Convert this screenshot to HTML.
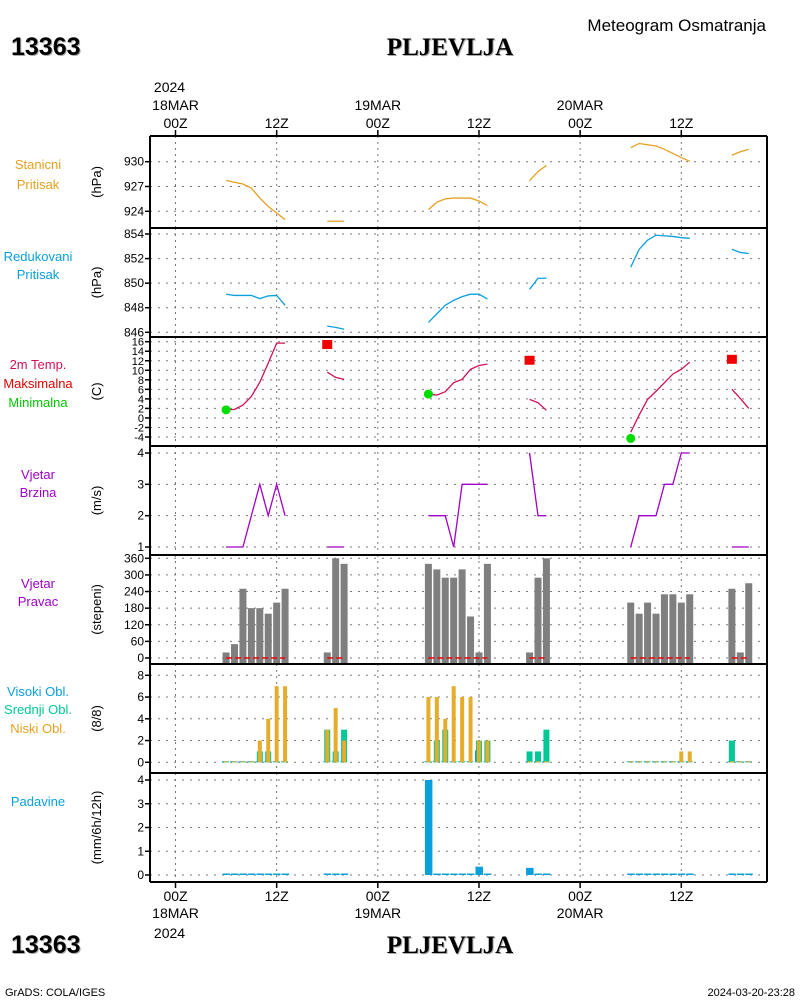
<!DOCTYPE html>
<html><head><meta charset="utf-8"><style>
body{margin:0;background:#fff;}
svg text{font-family:"Liberation Sans",sans-serif;}
</style></head><body>
<svg id="chart" width="800" height="1000" xmlns="http://www.w3.org/2000/svg">
<rect width="800" height="1000" fill="#fff"/>
<g id="titles">
<text x="12" y="56" font-size="25" font-weight="bold" fill="#aaa">13363</text>
<text x="11" y="55" font-size="25" font-weight="bold" fill="#000">13363</text>
<text x="451" y="56" font-size="25" font-weight="bold" fill="#aaa" text-anchor="middle" style="font-family:'Liberation Serif',serif">PLJEVLJA</text>
<text x="450" y="55" font-size="25" font-weight="bold" fill="#000" text-anchor="middle" style="font-family:'Liberation Serif',serif">PLJEVLJA</text>
<text x="766" y="31" font-size="17" text-anchor="end">Meteogram Osmatranja</text>
<text x="12" y="954" font-size="25" font-weight="bold" fill="#aaa">13363</text>
<text x="11" y="953" font-size="25" font-weight="bold">13363</text>
<text x="451" y="954" font-size="25" font-weight="bold" fill="#aaa" text-anchor="middle" style="font-family:'Liberation Serif',serif">PLJEVLJA</text>
<text x="450" y="953" font-size="25" font-weight="bold" text-anchor="middle" style="font-family:'Liberation Serif',serif">PLJEVLJA</text>
<text x="5" y="996" font-size="11">GrADS: COLA/IGES</text>
<text x="795" y="996" font-size="11" text-anchor="end">2024-03-20-23:28</text>
</g>
<g id="labels" font-size="13" text-anchor="middle">
<text x="38" y="169" fill="#e8a020">Stanicni</text>
<text x="38" y="189" fill="#e8a020">Pritisak</text>
<text x="38" y="261" fill="#0aa0dc">Redukovani</text>
<text x="38" y="279" fill="#0aa0dc">Pritisak</text>
<text x="38" y="369" fill="#d0105a">2m Temp.</text>
<text x="38" y="388" fill="#e00000">Maksimalna</text>
<text x="38" y="407" fill="#00c800">Minimalna</text>
<text x="38" y="479" fill="#a000c8">Vjetar</text>
<text x="38" y="497" fill="#a000c8">Brzina</text>
<text x="38" y="588" fill="#a000c8">Vjetar</text>
<text x="38" y="606" fill="#a000c8">Pravac</text>
<text x="38" y="696" fill="#0aa0dc">Visoki Obl.</text>
<text x="38" y="714" fill="#00c896">Srednji Obl.</text>
<text x="38" y="733" fill="#e8a020">Niski Obl.</text>
<text x="38" y="806" fill="#0aa0dc">Padavine</text>
</g>
<g id="plot"></g>
</svg>
<script>
const hours=[6,7,8,9,10,11,12,13,18,19,20,30,31,32,33,34,35,36,37,42,43,44,54,55,56,57,58,59,60,61,66,67,68];
const stnP=[927.75,927.5,927.3,926.8,925.6,924.6,923.8,923.0,922.8,922.8,922.8,924.2,925.1,925.5,925.6,925.6,925.6,925.25,924.7,927.7,928.8,929.55,931.7,932.2,932.05,931.9,931.5,931.0,930.5,930.05,930.8,931.2,931.5];
const redP=[849.1,849.0,849.0,849.0,848.74,848.96,849.0,848.2,846.5,846.4,846.25,846.8,847.5,848.2,848.6,848.9,849.1,849.1,848.7,849.5,850.4,850.4,851.3,852.75,853.5,853.9,853.85,853.8,853.7,853.65,852.75,852.5,852.4];
const temp=[1.7,1.8,2.7,4.5,7.5,11.5,15.7,15.7,9.6,8.5,8.1,5.0,4.8,5.5,7.4,8.1,10.2,11.0,11.3,3.9,3.2,1.6,-3.0,0.6,3.9,5.6,7.4,9.2,10.2,11.7,6.0,4.1,2.0];
const tmaxHours=[18,42,66];
const tmaxVals=[15.3,12.0,12.2];
const tminHours=[6,30,54];
const tminVals=[1.7,5.0,-4.3];
const windSpd=[1,1,1,2,3,2,3,2,1,1,1,2,2,2,1,3,3,3,3,4,2,2,1,2,2,2,3,3,4,4,1,1,1];
const windDir=[20,50,250,180,180,160,200,250,20,360,340,340,320,290,290,320,150,20,340,20,290,360,200,160,200,160,230,230,200,230,250,20,270];
const cloudL=[0,0,0,0,2,4,7,7,3,5,2,6,6,4,7,6,6,2,2,0,0,0,0,0,0,0,0,0,1,1,0,0,0];
const cloudM=[0,0,0,0,1,1,0,0,3,1,3,0,2,3,0,0,0,2,2,1,1,3,0,0,0,0,0,0,0,0,2,0,0];
const cloudH=[0,0,0,0,0,0,0,0,0,0,0,0,0,0,0,0,0,1.1,0,0,0,0,0,0,0,0,0,0,0,0,0,0,0];
const precip=[0,0,0,0,0,0,0,0,0,0,0,4.0,0,0,0,0,0,0.35,0,0.3,0,0,0,0,0,0,0,0,0,0,0,0,0];
const stnTicks=[924,927,930];
const redTicks=[846,848,850,852,854];
const tempTicks=[-4,-2,0,2,4,6,8,10,12,14,16];
const spdTicks=[1,2,3,4];
const dirTicks=[0,60,120,180,240,300,360];
const cloudTicks=[0,2,4,6,8];
const precipTicks=[0,1,2,3,4];

const NS="http://www.w3.org/2000/svg";
const plot=document.getElementById('plot');
function el(tag,attrs,parent){const e=document.createElementNS(NS,tag);for(const k in attrs)e.setAttribute(k,attrs[k]);(parent||plot).appendChild(e);return e;}
const X0=150,X1=767;
function xs(h){return 175.5+h*8.43;}
function lin(v0,y0,v1,y1){return v=>y0+(v-v0)*(y1-y0)/(v1-v0);}
const panels=[
 {top:136,bot:228,ys:lin(924,211.3,930,161.7),ticks:stnTicks,unit:"(hPa)"},
 {top:228,bot:337,ys:lin(846,332.3,854,234),ticks:redTicks,unit:"(hPa)"},
 {top:337,bot:446,ys:lin(-4,437,16,341.7),ticks:tempTicks,unit:"(C)"},
 {top:446,bot:555,ys:lin(1,547,4,453),ticks:spdTicks,unit:"(m/s)"},
 {top:555,bot:664,ys:lin(0,658,360,558.3),ticks:dirTicks,unit:"(stepeni)"},
 {top:664,bot:773,ys:lin(0,762.3,8,675.3),ticks:cloudTicks,unit:"(8/8)"},
 {top:773,bot:882,ys:lin(0,875,4,780),ticks:precipTicks,unit:"(mm/6h/12h)"}
];
const gridHours=[0,12,24,36,48,60];
panels.forEach((p,i)=>{
 const g=el('g',{});
 
 
 gridHours.forEach(h=>{const l=el('line',{x1:xs(h),x2:xs(h),y1:p.top,y2:p.bot,stroke:'#777','stroke-dasharray':'2,4'},g);
  });
 p.ticks.forEach(t=>{const y=p.ys(t);
  const l=el('line',{x1:X0,x2:X1,y1:y,y2:y,stroke:'#777','stroke-dasharray':'2,6'},g);
  
  el('line',{x1:X0-5,x2:X0,y1:y,y2:y,stroke:'#000','stroke-width':1.5},g);
  const tx=el('text',{x:X0-6,y:y+4,'font-size':(i==2?11:12),'text-anchor':'end'},g);tx.textContent=t;
  
 });
 const u=el('text',{x:0,y:0,'font-size':13,'text-anchor':'middle',transform:`translate(101,${(p.top+p.bot)/2}) rotate(-90)`},g);
 u.textContent=p.unit;
});
function segs(){const out=[];let cur=[];hours.forEach((h,i)=>{if(cur.length&&h-hours[i-1]>1){out.push(cur);cur=[];}cur.push(i);});out.push(cur);return out;}
function drawLine(vals,p,color,name){segs().forEach(s=>{const pts=s.map(i=>xs(hours[i])+','+p.ys(vals[i])).join(' ');
 const pl=el('polyline',{points:pts,fill:'none',stroke:color,'stroke-width':1.3});
 });}
drawLine(stnP,panels[0],'#e8a020','station-pressure-line');
drawLine(redP,panels[1],'#0aa0dc','reduced-pressure-line');
drawLine(temp,panels[2],'#d0105a','temperature-line');
drawLine(windSpd,panels[3],'#a000c8','wind-speed-line');
tmaxHours.forEach((h,i)=>{const r=el('rect',{x:xs(h)-5,y:panels[2].ys(tmaxVals[i])-5,width:10,height:9,fill:'#f00000'});
 });
tminHours.forEach((h,i)=>{const c=el('circle',{cx:xs(h),cy:panels[2].ys(tminVals[i]),r:4.5,fill:'#00dc00'});
 });
const pd=panels[4];
hours.forEach((h,i)=>{const y=pd.ys(windDir[i]);const r=el('rect',{x:xs(h)-3.5,y:y,width:7,height:pd.bot-y,fill:'#7f7f7f'});
 });
segs().forEach(s=>{const y=pd.ys(0);const l=el('line',{x1:xs(hours[s[0]]),x2:xs(hours[s[s.length-1]]),y1:y,y2:y,stroke:'#f00000','stroke-width':1.5,'stroke-dasharray':'6,3'});
 });
const pc=panels[5];
function cbar(h,v,x0,w,color,name){const y0=pc.ys(0);const y=v>0?pc.ys(v):y0-1;const r=el('rect',{x:xs(h)+x0,y:y,width:w,height:Math.max(y0-y,1),fill:color});
 }
hours.forEach((h,i)=>{cbar(h,cloudH[i],-4,6,'#0aa0dc','cloud-high-bar');cbar(h,cloudM[i],-3,6,'#00c896','cloud-mid-bar');cbar(h,cloudL[i],-2,4,'#e6ac2c','cloud-low-bar');});
const pp=panels[6];
hours.forEach((h,i)=>{const y0=pp.ys(0);const y=precip[i]>0?pp.ys(precip[i]):y0-1.5;
 const r=el('rect',{x:xs(h)-3.5,y:y,width:7.5,height:Math.max(y0-y,1.5),fill:'#0aa0dc'});
 });
panels.forEach(p=>{el('line',{x1:X0,x2:X1,y1:p.top,y2:p.top,stroke:'#000','stroke-width':2});});
el('line',{x1:X0,x2:X1,y1:882,y2:882,stroke:'#000','stroke-width':2});
el('line',{x1:X0,x2:X0,y1:136,y2:882,stroke:'#000','stroke-width':2});
el('line',{x1:X1,x2:X1,y1:136,y2:882,stroke:'#000','stroke-width':2});
const topLbl=['00Z','12Z','00Z','12Z','00Z','12Z'];
gridHours.forEach((h,i)=>{const x=xs(h);
 el('line',{x1:x,x2:x,y1:130,y2:136,stroke:'#000','stroke-width':1.5});
 el('line',{x1:x,x2:x,y1:882,y2:888,stroke:'#000','stroke-width':1.5});
 const t=el('text',{x:x,y:128,'font-size':14,'text-anchor':'middle'});t.textContent=topLbl[i];
 
 const b=el('text',{x:x,y:901,'font-size':14,'text-anchor':'middle'});b.textContent=topLbl[i];
 
});
const days=['18MAR','19MAR','20MAR'];
days.forEach((d,i)=>{const x=xs(i*24);
 const t=el('text',{x:x,y:110,'font-size':14,'text-anchor':'middle'});t.textContent=d;
 
 const b=el('text',{x:x,y:918,'font-size':14,'text-anchor':'middle'});b.textContent=d;
 });
const y1=el('text',{x:xs(0)-6,y:92,'font-size':14,'text-anchor':'middle'});y1.textContent='2024';

const y2=el('text',{x:xs(0)-6,y:938,'font-size':14,'text-anchor':'middle'});y2.textContent='2024';

</script>
</body></html>
